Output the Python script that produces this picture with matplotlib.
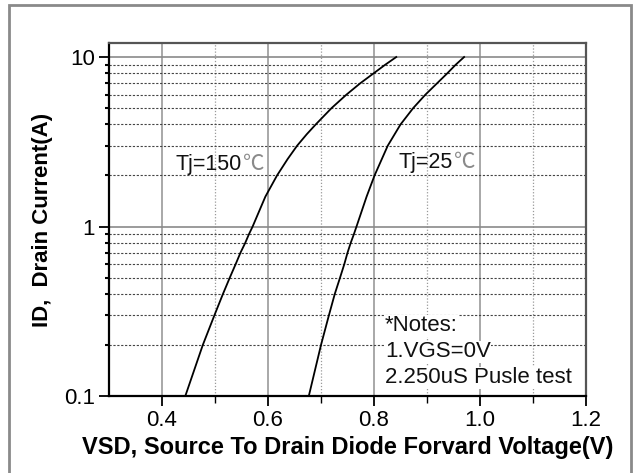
import matplotlib

matplotlib.use("Agg", force=True)
import matplotlib.pyplot as plt
import numpy as np
from matplotlib.patches import Rectangle
from matplotlib.ticker import FixedLocator, LogLocator, NullFormatter

# curve data (VSD in V, ID in A)
id_150 = [0.1, 0.2, 0.3, 0.4, 0.5, 0.6, 0.7, 0.8, 0.9, 1.0, 1.5, 2.0, 2.5, 3.0, 3.5, 4.0,
          5.0, 6.0, 7.0, 8.0, 9.0, 10.0]
vsd_150 = [0.444, 0.477, 0.499, 0.515, 0.528, 0.539, 0.548, 0.557, 0.564, 0.571, 0.595, 0.617,
           0.637, 0.655, 0.673, 0.690, 0.720, 0.748, 0.774, 0.799, 0.821, 0.842]
id_25 = [0.1, 0.2, 0.3, 0.4, 0.5, 0.6, 0.7, 0.8, 0.9, 1.0, 1.5, 2.0, 3.0, 4.0, 5.0, 6.0, 7.0,
         8.0, 9.0, 10.0]
vsd_25 = [0.677, 0.700, 0.715, 0.726, 0.736, 0.744, 0.750, 0.756, 0.762, 0.767, 0.786, 0.801,
          0.826, 0.850, 0.874, 0.897, 0.919, 0.938, 0.954, 0.970]

x_major = [0.4, 0.6, 0.8, 1.0, 1.2]
x_minor = [0.5, 0.7, 0.9, 1.1]
x_labels = ["0.4", "0.6", "0.8", "1.0", "1.2"]
y_major = [0.1, 1, 10]
y_labels = ["0.1", "1", "10"]

notes = ["*Notes:", "1.VGS=0V", "2.250uS Pusle test"]
notes_y = [0.241, 0.1696, 0.119]

FONT = ["Liberation Sans", "Noto Sans CJK SC", "DejaVu Sans"]
plt.rcParams["font.family"] = FONT

fig = plt.figure(figsize=(6.37, 4.73), dpi=100)
fig.patch.set_facecolor("white")
frame = Rectangle((8.5 / 637, -0.05), 622 / 637, 1.0 - 5 / 473 + 0.05,
                  transform=fig.transFigure, facecolor="none",
                  edgecolor="#8a8a8a", linewidth=2.0, zorder=0)
fig.add_artist(frame)

ax = fig.add_axes([109 / 637, 1 - 396 / 473, (586 - 109) / 637, (396 - 43) / 473])
ax.set_zorder(2)
ax.set_yscale("log")
ax.set_xlim(0.3, 1.2)
ax.set_ylim(0.1, 12.1)

ax.plot(vsd_150, id_150, color="black", linewidth=1.3, zorder=3, solid_joinstyle="round")
ax.plot(vsd_25, id_25, color="black", linewidth=1.3, zorder=3, solid_joinstyle="round")

ax.xaxis.set_major_locator(FixedLocator(x_major))
ax.xaxis.set_minor_locator(FixedLocator(x_minor))
ax.set_xticklabels(x_labels)
ax.yaxis.set_major_locator(FixedLocator(y_major))
ax.yaxis.set_minor_locator(LogLocator(base=10, subs=np.arange(2, 10)))
ax.yaxis.set_minor_formatter(NullFormatter())
ax.set_yticklabels(y_labels)

ax.grid(which="major", axis="x", color="#9a9a9a", linewidth=1.2, linestyle="-")
ax.grid(which="minor", axis="x", color="#9a9a9a", linewidth=0.9, linestyle=(0, (1, 1.5)))
ax.grid(which="major", axis="y", color="#8a8a8a", linewidth=1.2, linestyle="-")
ax.grid(which="minor", axis="y", color="#444444", linewidth=0.8, linestyle=(0, (2, 1.5)))
ax.set_axisbelow(True)

ax.tick_params(which="major", direction="out", length=7, width=1.3, labelsize=16, colors="black", pad=3)
ax.tick_params(which="minor", direction="out", length=5, width=1.0)
ax.tick_params(axis="y", which="minor", length=3, width=1.5)

for side in ["left", "bottom"]:
    ax.spines[side].set_color("black")
    ax.spines[side].set_linewidth(1.6)
for side in ["top", "right"]:
    ax.spines[side].set_color("#555555")
    ax.spines[side].set_linewidth(1.6)

ax.set_xlabel("VSD, Source To Drain Diode Forvard Voltage(V)", fontsize=17, fontweight="bold", labelpad=4)
ax.set_ylabel("ID,  Drain Current(A)", fontsize=16, fontweight="bold", labelpad=8)

for label, x, y in [("Tj=150", 0.426, 2.32), ("Tj=25", 0.847, 2.38)]:
    t = ax.text(x, y, label, fontsize=15.5, va="center", ha="left", color="#111111")
    ax.annotate("℃", xy=(1, 0), xycoords=t, xytext=(0.5, 0), textcoords="offset points",
                va="bottom", ha="left", fontsize=15.5, color="#8a8a8a",
                family=["Noto Sans CJK SC", "DejaVu Sans"], fontweight="light")

for line, y in zip(notes, notes_y):
    ax.text(0.821, y, line, fontsize=16, va="baseline", ha="left", color="#111111",
            bbox=dict(facecolor="white", edgecolor="none", pad=0.3), zorder=4)

fig.savefig("out.png", dpi=100)
